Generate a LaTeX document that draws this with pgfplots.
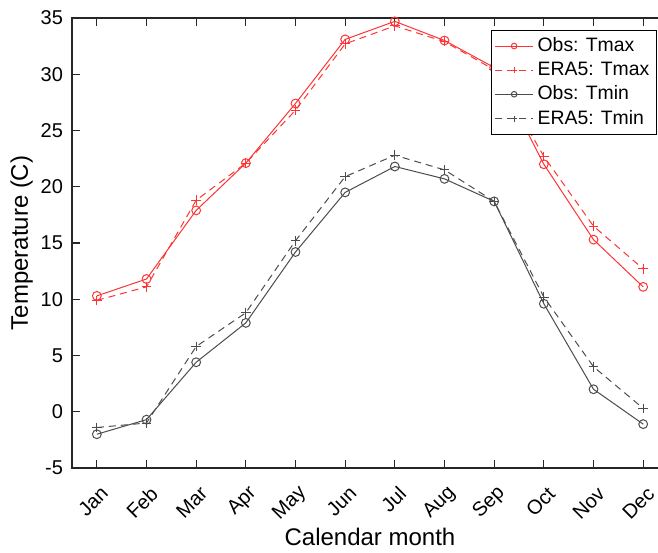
\documentclass[border=0pt]{standalone}
\usepackage{pgfplots}
\pgfplotsset{compat=1.18}
\usepackage{fontspec}
\setmainfont{Liberation Sans}
\definecolor{axgray}{gray}{0.15}
\definecolor{tminc}{gray}{0.3}
\definecolor{tmaxc}{rgb}{1,0.2,0.2}
\begin{document}
\begin{tikzpicture}
\begin{axis}[
  at={(0,0)}, anchor=south west,
  scale only axis, width=298pt, height=225pt,
  xmin=0.5, xmax=12.5, ymin=-5, ymax=35,
  xtick={1,...,12},
  xticklabels={Jan,Feb,Mar,Apr,May,Jun,Jul,Aug,Sep,Oct,Nov,Dec},
  ytick={-5,0,...,35},
  tick align=inside, major tick length=4pt,
  axis line style={axgray, line width=0.6pt},
  every tick/.style={axgray, line width=0.6pt},
  tick label style={font=\fontsize{10}{12}\selectfont, text=black},
  /pgf/number format/assume math mode=true,
  xticklabel style={xshift=4pt, yshift=-11pt, rotate=45, anchor=east, inner sep=0pt},
  yticklabel style={xshift=-1pt},
  xlabel={Calendar month}, ylabel={Temperature (C)},
  label style={font=\fontsize{12}{14}\selectfont},
  xlabel style={yshift=1pt},
  ylabel style={yshift=-3pt},
  legend style={at={(0.9815,0.9735)}, anchor=north east, draw=black, line width=0.6pt,
    font=\fontsize{9.7}{11}\selectfont, inner sep=1.5pt, row sep=-0.3pt, cells={anchor=west}},
  legend cell align=left,
  legend image code/.code={\draw[#1, mark=none] (0pt,0pt) -- (19pt,0pt);
    \draw[#1, solid, only marks, mark size=1.4pt] plot coordinates {(9.5pt,0pt)};},
]
\addplot[tmaxc, line width=0.5pt, mark=o, mark size=2.2pt, mark options={solid}] coordinates {
(1,10.3) (2,11.8) (3,17.9) (4,22.1) (5,27.4) (6,33.1) (7,34.7) (8,33.0) (9,30.6) (10,22.0) (11,15.3) (12,11.1)};
\addlegendentry{Obs: Tmax}
\addplot[tmaxc, line width=0.5pt, dash pattern=on 3.5pt off 2.5pt, mark=+, mark size=2.4pt, mark options={solid}] coordinates {
(1,9.9) (2,11.1) (3,18.8) (4,22.1) (5,26.8) (6,32.7) (7,34.3) (8,32.9) (9,30.4) (10,22.7) (11,16.5) (12,12.7)};
\addlegendentry{ERA5: Tmax}
\addplot[tminc, line width=0.5pt, mark=o, mark size=2.2pt, mark options={solid}] coordinates {
(1,-2.0) (2,-0.7) (3,4.4) (4,7.9) (5,14.2) (6,19.5) (7,21.8) (8,20.7) (9,18.7) (10,9.6) (11,2.0) (12,-1.1)};
\addlegendentry{Obs: Tmin}
\addplot[tminc, line width=0.5pt, dash pattern=on 3.5pt off 2.5pt, mark=+, mark size=2.4pt, mark options={solid}] coordinates {
(1,-1.4) (2,-1.0) (3,5.8) (4,8.8) (5,15.2) (6,20.9) (7,22.8) (8,21.5) (9,18.7) (10,10.2) (11,4.0) (12,0.3)};
\addlegendentry{ERA5: Tmin}
\end{axis}
\pgfresetboundingbox
\path (-36pt,-42pt) rectangle (293pt,234pt);
\end{tikzpicture}
\end{document}
